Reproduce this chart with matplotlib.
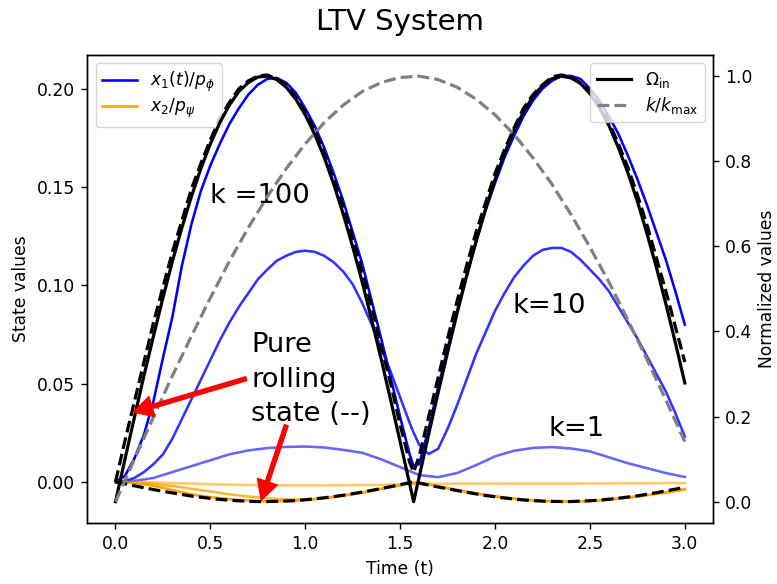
import matplotlib
matplotlib.use("Agg")
import matplotlib.pyplot as plt

plt.rcParams['font.family'] = ['DejaVu Sans']
plt.rcParams['mathtext.fontset'] = 'dejavusans'
plt.rcParams['font.size'] = 12.3

# time grid for the fast curves (extra sample at the switching instant)
t_fine = [0.00, 0.05, 0.10, 0.15, 0.20, 0.25, 0.30, 0.35, 0.40, 0.45,
          0.50, 0.55, 0.60, 0.65, 0.70, 0.75, 0.80, 0.85, 0.90, 0.95,
          1.00, 1.05, 1.10, 1.15, 1.20, 1.25, 1.30, 1.35, 1.40, 1.45,
          1.50, 1.55, 1.571, 1.60, 1.65, 1.70, 1.75, 1.80, 1.85, 1.90,
          1.95, 2.00, 2.05, 2.10, 2.15, 2.20, 2.25, 2.30, 2.35, 2.40,
          2.45, 2.50, 2.55, 2.60, 2.65, 2.70, 2.75, 2.80, 2.85, 2.90,
          2.95, 3.00]

# time grid for the slow curves
t_coarse = [0.0, 0.1, 0.2, 0.3, 0.4, 0.5, 0.6, 0.7, 0.8, 0.9,
            1.0, 1.1, 1.2, 1.3, 1.4, 1.5, 1.6, 1.7, 1.8, 1.9,
            2.0, 2.1, 2.2, 2.3, 2.4, 2.5, 2.6, 2.7, 2.8, 2.9, 3.0]

# normalised input rate (right axis)
omega_in = [0.000, 0.100, 0.199, 0.296, 0.389, 0.479, 0.565, 0.644, 0.717, 0.783,
            0.841, 0.891, 0.932, 0.964, 0.985, 0.998, 1.000, 0.992, 0.974, 0.946,
            0.909, 0.863, 0.809, 0.746, 0.676, 0.599, 0.516, 0.427, 0.335, 0.239,
            0.141, 0.042, 0.000, 0.058, 0.158, 0.256, 0.351, 0.443, 0.530, 0.612,
            0.688, 0.757, 0.818, 0.872, 0.916, 0.952, 0.978, 0.994, 1.000, 0.996,
            0.983, 0.959, 0.926, 0.884, 0.832, 0.773, 0.706, 0.631, 0.551, 0.465,
            0.374, 0.279]

# normalised gain schedule (right axis)
k_norm = [0.000, 0.100, 0.199, 0.296, 0.389, 0.479, 0.565, 0.644, 0.717, 0.783,
          0.841, 0.891, 0.932, 0.964, 0.985, 0.997, 1.000, 0.992, 0.974, 0.946,
          0.909, 0.863, 0.808, 0.746, 0.675, 0.598, 0.516, 0.427, 0.335, 0.239,
          0.141]

# pure rolling state
x1_pure = [0.000, 0.021, 0.041, 0.061, 0.081, 0.099, 0.117, 0.133, 0.149, 0.162,
           0.174, 0.185, 0.193, 0.200, 0.204, 0.2065, 0.207, 0.205, 0.202, 0.196,
           0.188, 0.179, 0.167, 0.154, 0.140, 0.124, 0.107, 0.089, 0.069, 0.050,
           0.029, 0.010, 0.005, 0.013, 0.033, 0.053, 0.073, 0.092, 0.110, 0.127,
           0.142, 0.157, 0.169, 0.180, 0.190, 0.197, 0.202, 0.206, 0.207, 0.206,
           0.203, 0.199, 0.192, 0.183, 0.172, 0.160, 0.146, 0.131, 0.114, 0.097,
           0.079, 0.061]
x2_pure = [0.0000, -0.0010, -0.0020, -0.0030, -0.0039, -0.0048, -0.0056, -0.0064, -0.0072, -0.0078,
           -0.0084, -0.0089, -0.0093, -0.0096, -0.0099, -0.0100, -0.0100, -0.0099, -0.0097, -0.0095,
           -0.0091, -0.0086, -0.0081, -0.0075, -0.0068, -0.0060, -0.0052, -0.0043, -0.0034, -0.0024,
           -0.0014, -0.0004, 0.0000, -0.0006, -0.0016, -0.0026, -0.0035, -0.0044, -0.0053, -0.0061,
           -0.0069, -0.0076, -0.0082, -0.0087, -0.0092, -0.0095, -0.0098, -0.0099, -0.0100, -0.0100,
           -0.0098, -0.0096, -0.0093, -0.0088, -0.0083, -0.0077, -0.0071, -0.0063, -0.0055, -0.0046,
           -0.0037, -0.0028]

# states for k = 100
x1_k100 = [0.000, 0.003, 0.012, 0.024, 0.041, 0.063, 0.084, 0.110, 0.131, 0.148,
           0.161, 0.172, 0.182, 0.190, 0.197, 0.202, 0.205, 0.2055, 0.203, 0.198,
           0.190, 0.181, 0.170, 0.157, 0.143, 0.127, 0.111, 0.092, 0.073, 0.053,
           0.033, 0.014, 0.008, 0.009, 0.027, 0.048, 0.068, 0.087, 0.105, 0.122,
           0.138, 0.152, 0.165, 0.176, 0.186, 0.194, 0.200, 0.204, 0.2065, 0.2065,
           0.205, 0.200, 0.194, 0.186, 0.177, 0.166, 0.154, 0.141, 0.127, 0.113,
           0.097, 0.080]
x2_k100 = [0.0000, -0.0001, -0.0006, -0.0012, -0.0020, -0.0030, -0.0041, -0.0053, -0.0063, -0.0071,
           -0.0078, -0.0083, -0.0088, -0.0092, -0.0095, -0.0098, -0.0099, -0.0099, -0.0098, -0.0096,
           -0.0092, -0.0087, -0.0082, -0.0076, -0.0069, -0.0061, -0.0054, -0.0044, -0.0035, -0.0026,
           -0.0016, -0.0007, -0.0004, -0.0004, -0.0013, -0.0023, -0.0033, -0.0042, -0.0051, -0.0059,
           -0.0067, -0.0073, -0.0080, -0.0085, -0.0090, -0.0094, -0.0097, -0.0099, -0.0100, -0.0100,
           -0.0099, -0.0097, -0.0094, -0.0090, -0.0085, -0.0080, -0.0074, -0.0068, -0.0061, -0.0055,
           -0.0047, -0.0039]

# states for k = 10
x1_k10 = [0.000, 0.0005, 0.002, 0.005, 0.009, 0.014, 0.022, 0.032, 0.042, 0.052,
          0.062, 0.072, 0.081, 0.089, 0.096, 0.103, 0.108, 0.1125, 0.115, 0.117,
          0.1176, 0.117, 0.115, 0.1117, 0.107, 0.1005, 0.091, 0.080, 0.068, 0.056,
          0.043, 0.030, 0.0250, 0.0190, 0.0142, 0.0168, 0.027, 0.039, 0.052, 0.065,
          0.076, 0.087, 0.096, 0.104, 0.110, 0.115, 0.118, 0.119, 0.119, 0.117,
          0.113, 0.108, 0.103, 0.097, 0.089, 0.081, 0.073, 0.064, 0.055, 0.046,
          0.035, 0.023]
x2_k10 = [0.0000, -0.0001, -0.0003, -0.0006, -0.0010, -0.0015, -0.0021, -0.0028, -0.0035, -0.0042,
          -0.0049, -0.0056, -0.0063, -0.0069, -0.0074, -0.0079, -0.0083, -0.0087, -0.0089, -0.0090,
          -0.0090, -0.0088, -0.0084, -0.0078, -0.0071, -0.0063, -0.0055, -0.0046, -0.0037, -0.0027,
          -0.0018, -0.0009, -0.0006, -0.0006, -0.0013, -0.0022, -0.0032, -0.0041, -0.0050, -0.0059,
          -0.0067, -0.0074, -0.0080, -0.0086, -0.0091, -0.0094, -0.0097, -0.0099, -0.0100, -0.0100,
          -0.0099, -0.0097, -0.0094, -0.0090, -0.0085, -0.0080, -0.0074, -0.0067, -0.0060, -0.0052,
          -0.0044, -0.0036]

# states for k = 1
x1_k1 = [0.000, 0.0005, 0.002, 0.005, 0.008, 0.011, 0.014, 0.016, 0.0172, 0.0178,
         0.018, 0.0175, 0.0163, 0.0148, 0.0115, 0.0075, 0.0035, 0.0024, 0.0045, 0.0085,
         0.013, 0.0158, 0.0173, 0.0177, 0.0170, 0.0155, 0.0125, 0.0095, 0.007, 0.0045,
         0.0025]
x2_k1 = [0.0000, -0.0001, -0.0003, -0.0006, -0.0009, -0.0012, -0.0014, -0.0016, -0.0017, -0.0018,
         -0.0018, -0.0018, -0.0017, -0.0016, -0.0015, -0.0013, -0.0011, -0.0010, -0.0009, -0.0009,
         -0.0009, -0.0009, -0.0009, -0.0009, -0.0009, -0.0008, -0.0008, -0.0007, -0.0007, -0.0006,
         -0.0006]

x_ticks = [0.0, 0.5, 1.0, 1.5, 2.0, 2.5, 3.0]
left_ticks = [0.00, 0.05, 0.10, 0.15, 0.20]
right_ticks = [0.0, 0.2, 0.4, 0.6, 0.8, 1.0]

fig = plt.figure(figsize=(7.77, 5.84), dpi=100)
ax = fig.add_axes([0.112, 0.1045, 0.806, 0.8015])
ax2 = ax.twinx()

lw_state = 1.85
runs = [
    (t_fine, x1_k100, t_fine, x2_k100, 1.0),
    (t_fine, x1_k10, t_fine, x2_k10, 0.8),
    (t_coarse, x1_k1, t_coarse, x2_k1, 0.6),
]
for i, (ta, xa, tb, xb, a) in enumerate(runs):
    ax.plot(ta, xa, color='blue', alpha=a, lw=lw_state,
            label=r'$x_1(t)/p_\phi$' if i == 0 else None)
    ax.plot(tb, xb, color='orange', alpha=a, lw=lw_state,
            label=r'$x_2/p_\psi$' if i == 0 else None)

ax.plot(t_fine, x1_pure, color='black', ls='--', lw=2.3)
ax.plot(t_fine, x2_pure, color='black', ls='--', lw=2.3)

ax2.plot(t_fine, omega_in, color='black', lw=2.3, label=r'$\Omega_{\mathrm{in}}$')
ax2.plot(t_coarse, k_norm, color='gray', ls='--', lw=2.3, label=r'$k/k_{\max}$')

ax.set_xlim(-0.15, 3.15)
ax.set_ylim(-0.0209, 0.2172)
ax2.set_ylim(-0.05, 1.05)
ax.set_xticks(x_ticks)
ax.set_yticks(left_ticks)
ax2.set_yticks(right_ticks)

for a_ in (ax, ax2):
    a_.tick_params(length=4.3, width=1.0, pad=4.3, labelsize=12.3)
    for s in a_.spines.values():
        s.set_linewidth(1.0)

ax.set_xlabel('Time (t)', fontsize=12.3, labelpad=4.9)
ax.set_ylabel('State values', fontsize=12.3, labelpad=4.9)
ax2.set_ylabel('Normalized values', fontsize=12.3, labelpad=3.8)
ax.set_title('LTV System', fontsize=21, pad=18)

ax.legend(loc='upper left', fontsize=12.3, labelspacing=0.15)
ax2.legend(loc='upper right', fontsize=12.3, labelspacing=0.25)

note_fs = 19.7
ax.text(0.50, 0.142, 'k =100', fontsize=note_fs, va='baseline', ha='left')
ax.text(2.09, 0.0857, 'k=10', fontsize=note_fs, va='baseline', ha='left')
ax.text(2.28, 0.0232, 'k=1', fontsize=note_fs, va='baseline', ha='left')
ax.text(0.715, 0.076, 'Pure\nrolling\nstate (--)', fontsize=note_fs,
        va='top', ha='left', linespacing=1.42)

arrow_kw = dict(facecolor='red', edgecolor='red', width=2.9, headwidth=15,
                headlength=14, shrink=0.0)
ax2.annotate('', xy=(0.0935, 0.0355), xytext=(0.689, 0.0525),
             xycoords=ax.transData, textcoords=ax.transData, arrowprops=arrow_kw)
ax2.annotate('', xy=(0.768, -0.0093), xytext=(0.90, 0.0288),
             xycoords=ax.transData, textcoords=ax.transData, arrowprops=arrow_kw)

fig.savefig('out.png', dpi=100)
